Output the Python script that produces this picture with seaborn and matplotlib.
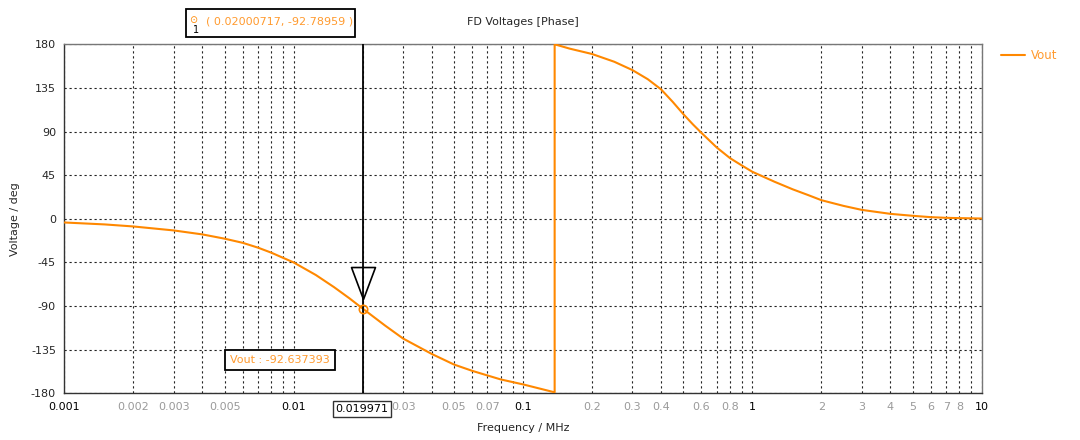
import numpy as np
import pandas as pd
import matplotlib
matplotlib.use("Agg")
import matplotlib.pyplot as plt
import seaborn as sns
from matplotlib.patches import Rectangle
from matplotlib.path import Path

# ---- data ----
freq_mhz = [0.001, 0.0015, 0.002, 0.003, 0.004, 0.005, 0.006, 0.007, 0.008, 0.009,
            0.01, 0.0125, 0.015, 0.0175, 0.02, 0.025, 0.03, 0.04, 0.05, 0.06, 0.07,
            0.08, 0.09, 0.1, 0.12, 0.1374,
            0.1374, 0.16, 0.2, 0.25, 0.3, 0.35, 0.4, 0.45, 0.5, 0.55, 0.6, 0.7, 0.8, 0.9,
            1.0, 1.25, 1.5, 1.75, 2.0, 2.5, 3.0, 4.0, 5.0, 6.0, 7.0, 8.0, 10.0]
phase_deg = [-3.8, -5.8, -7.9, -12.0, -16.1, -20.5, -24.8, -29.8, -35.0, -40.3,
             -45.0, -58.0, -70.5, -82.0, -92.6, -110.0, -123.5, -139.4, -150.3, -156.8, -161.6,
             -165.7, -168.4, -170.8, -175.5, -179.0,
             180.0, 175.5, 170.0, 162.0, 153.4, 144.0, 133.5, 120.5, 108.0, 97.5, 88.6, 73.5, 62.5, 55.0,
             48.5, 38.2, 30.4, 24.5, 19.2, 13.3, 9.2, 5.1, 3.1, 1.7, 1.0, 0.7, 0.3]

x_ticks = [m * 10.0 ** e for e in range(-3, 1) for m in range(1, 10)] + [10.0]
x_labels_shown = {0.001: "0.001", 0.002: "0.002", 0.003: "0.003", 0.005: "0.005",
                  0.01: "0.01", 0.03: "0.03", 0.05: "0.05", 0.07: "0.07",
                  0.1: "0.1", 0.2: "0.2", 0.3: "0.3", 0.4: "0.4", 0.6: "0.6", 0.8: "0.8",
                  1.0: "1", 2.0: "2", 3.0: "3", 4.0: "4", 5.0: "5", 6.0: "6", 7.0: "7",
                  8.0: "8", 10.0: "10"}
decade_labels = ["0.001", "0.01", "0.1", "1", "10"]
y_ticks = [-180, -135, -90, -45, 0, 45, 90, 135, 180]

cursor_freq = 0.02000717
cursor_value = -92.78959
probe_value = -92.637393
cursor_axis_label = "0.019971"

ORANGE = "#ff8800"
TXT_ORANGE = "#ff9a2e"

sns.set_style("white")
plt.rcParams["font.family"] = ["DejaVu Sans"]

df = pd.DataFrame({"Frequency": freq_mhz, "Phase": phase_deg})

W, H = 1080, 440
fig = plt.figure(figsize=(W / 100, H / 100), dpi=100)
ax = fig.add_axes([64.3 / W, 1 - 393.3 / H, (981.7 - 64.3) / W, (393.3 - 44.3) / H])

sns.lineplot(data=df, x="Frequency", y="Phase", estimator=None, sort=False,
             color=ORANGE, linewidth=1.5, ax=ax, label="Vout", zorder=3)

ax.set_xscale("log")
ax.set_xlim(0.001, 10)
ax.set_ylim(-180, 180)

ax.set_xticks(x_ticks)
ax.set_xticks([], minor=True)
labels = []
for t in x_ticks:
    key = min(x_labels_shown.keys(), key=lambda k: abs(np.log10(k) - np.log10(t)))
    labels.append(x_labels_shown[key] if abs(np.log10(key) - np.log10(t)) < 1e-6 else "")
ax.set_xticklabels(labels)
for lab in ax.get_xticklabels():
    lab.set_color("black" if lab.get_text() in decade_labels else "#9a9a9a")
    lab.set_fontsize(8)
ax.set_yticks(y_ticks)
ax.set_yticklabels([str(v) for v in y_ticks], fontsize=8)

ax.grid(True, which="major", color="#222222", linestyle=(0, (2, 2.5)), linewidth=0.8)
ax.tick_params(axis="x", which="major", length=4, width=0.8, color="#333333", pad=2)
ax.tick_params(axis="y", which="major", length=4, width=0.8, color="#333333", pad=2)

for side in ["left", "bottom"]:
    ax.spines[side].set_color("#333333")
    ax.spines[side].set_linewidth(1.0)
for side in ["top", "right"]:
    ax.spines[side].set_color("#777777")
    ax.spines[side].set_linewidth(1.0)
    ax.spines[side].set_visible(True)

ax.set_xlabel("Frequency / MHz", fontsize=8, labelpad=8)
ax.set_ylabel("Voltage / deg", fontsize=8, labelpad=8)
ax.set_title("FD Voltages [Phase]", fontsize=8, pad=14)

# legend
leg = ax.legend(loc="upper left", bbox_to_anchor=(1.01, 1.016), frameon=False,
                fontsize=8.5, handlelength=2.0, handletextpad=0.5, labelcolor=TXT_ORANGE)

# cursor
ax.axvline(cursor_freq, color="black", linewidth=1.3, zorder=4)
tri = Path([(-0.75, 1.0), (0.75, 1.0), (0.0, -1.0), (-0.75, 1.0)],
           [Path.MOVETO, Path.LINETO, Path.LINETO, Path.CLOSEPOLY])
ax.plot([cursor_freq], [-66.0], marker=tri, markersize=23, markerfacecolor="none",
        markeredgecolor="black", markeredgewidth=1.2, zorder=5)
ax.plot([cursor_freq], [cursor_value], marker="o", markersize=6, markerfacecolor="none",
        markeredgecolor=ORANGE, markeredgewidth=1.2, zorder=6)

# cursor axis label box
fig.text(362 / W, 1 - 409 / H, cursor_axis_label, ha="center", va="center", fontsize=8,
         color="black", zorder=10,
         bbox=dict(boxstyle="square,pad=0.25", facecolor="white", edgecolor="#333333", linewidth=1))

# probe value box
fig.text(280 / W, 1 - 360 / H, "Vout : %.6f" % probe_value, ha="center", va="center",
         fontsize=8, color=TXT_ORANGE, zorder=10,
         bbox=dict(boxstyle="square,pad=0.45", facecolor="white", edgecolor="black", linewidth=1.3))

# top cursor readout box
fig.patches.append(Rectangle((186 / W, 1 - 37.5 / H), (355 - 186) / W, 28.5 / H,
                             transform=fig.transFigure, facecolor="white",
                             edgecolor="black", linewidth=1.3, zorder=9))
fig.text(193 / W, 1 - 20 / H, "\u2299", ha="center", va="center", fontsize=7, color=ORANGE,
         zorder=10)
fig.text(196 / W, 1 - 30 / H, "1", ha="center", va="center", fontsize=7, color="black", zorder=10)
fig.text(280 / W, 1 - 22 / H, "( %.8f, %.5f )" % (cursor_freq, cursor_value), ha="center",
         va="center", fontsize=8, color=TXT_ORANGE, zorder=10)

fig.savefig("out.png", dpi=100)
